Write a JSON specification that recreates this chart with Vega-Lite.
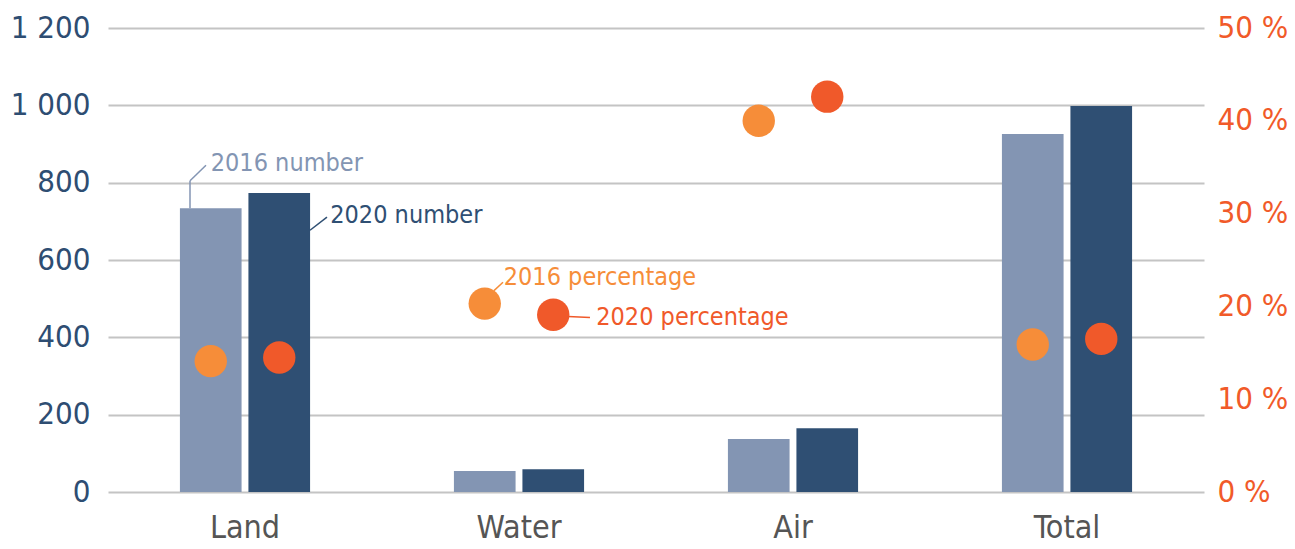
{
  "$schema": "https://vega.github.io/schema/vega-lite/v6.json",
  "width": 1096,
  "height": 464,
  "autosize": "none",
  "padding": {"left": 108, "top": 28, "right": 91, "bottom": 57},
  "background": "white",
  "config": {
    "view": {"stroke": null},
    "font": "DejaVu Sans Condensed, Liberation Sans Narrow, sans-serif"
  },
  "datasets": {
    "main": [
      {"cat": "Land", "year": "2016", "number": 734, "pct": 14.1},
      {"cat": "Land", "year": "2020", "number": 773, "pct": 14.5},
      {"cat": "Water", "year": "2016", "number": 54, "pct": 20.3},
      {"cat": "Water", "year": "2020", "number": 59, "pct": 19.1},
      {"cat": "Air", "year": "2016", "number": 137, "pct": 40.0},
      {"cat": "Air", "year": "2020", "number": 165, "pct": 42.6},
      {"cat": "Total", "year": "2016", "number": 926, "pct": 15.9},
      {"cat": "Total", "year": "2020", "number": 998, "pct": 16.5}
    ],
    "labels": [
      {"cat": "Land", "year": "2016", "val": 851, "label": "2016 number"},
      {"cat": "Land", "year": "2020", "val": 716, "label": "2020 number"},
      {"cat": "Water", "year": "2016", "val": 23.2, "label": "2016 percentage"},
      {"cat": "Water", "year": "2020", "val": 18.9, "label": "2020 percentage"}
    ],
    "leaders": [
      {"cat": "Land", "id": "n16a", "y1": 734, "y2": 805},
      {"cat": "Land", "id": "n16b", "y1": 805, "y2": 845},
      {"cat": "Land", "id": "n20", "y1": 677, "y2": 711},
      {"cat": "Water", "id": "p16", "y1": 21.7, "y2": 22.6},
      {"cat": "Water", "id": "p20", "y1": 18.9, "y2": 18.8}
    ]
  },
  "encoding": {
    "x": {
      "field": "cat",
      "type": "nominal",
      "sort": ["Land", "Water", "Air", "Total"],
      "scale": {"paddingInner": 0.525, "paddingOuter": 0.2625},
      "axis": {
        "title": null,
        "domain": false,
        "ticks": false,
        "labelAngle": 0,
        "labelFontSize": 32,
        "labelColor": "#555555",
        "labelPadding": 20,
        "labelBaseline": "top"
      }
    }
  },
  "layer": [
    {
      "layer": [
        {
          "data": {"name": "main"},
          "mark": {"type": "bar"},
          "encoding": {
            "xOffset": {"field": "year", "type": "nominal", "sort": ["2016", "2020"], "scale": {"paddingInner": 0.1, "paddingOuter": 0}},
            "y": {
              "field": "number",
              "type": "quantitative",
              "scale": {"domain": [0, 1200], "nice": false},
              "axis": {
                "title": null,
                "orient": "left",
                "values": [0, 200, 400, 600, 800, 1000, 1200],
                "labelExpr": "replace(format(datum.value, ','), ',', ' ')",
                "labelFontSize": 31,
                "labelColor": "#2e4d72",
                "labelPadding": 18,
                "domain": false,
                "ticks": false,
                "grid": true,
                "gridColor": "#c4c4c4",
                "gridWidth": 2
              }
            },
            "color": {
              "field": "year",
              "type": "nominal",
              "scale": {"domain": ["2016", "2020"], "range": ["#8395b3", "#2f4f73"]},
              "legend": null
            }
          }
        },
        {
          "data": {"name": "labels"},
          "transform": [{"filter": "datum.label == '2016 number'"}],
          "mark": {"type": "text", "align": "left", "baseline": "middle", "fontSize": 25, "dx": 0, "color": "#8395b3"},
          "encoding": {
            "xOffset": {"field": "year", "type": "nominal", "sort": ["2016", "2020"], "scale": {"paddingInner": 0.1, "paddingOuter": 0}},
            "y": {"field": "val", "type": "quantitative"},
            "text": {"field": "label"}
          }
        },
        {
          "data": {"name": "labels"},
          "transform": [{"filter": "datum.label == '2020 number'"}],
          "mark": {"type": "text", "align": "left", "baseline": "middle", "fontSize": 25, "dx": 51, "color": "#2f4f73"},
          "encoding": {
            "xOffset": {"field": "year", "type": "nominal", "sort": ["2016", "2020"], "scale": {"paddingInner": 0.1, "paddingOuter": 0}},
            "y": {"field": "val", "type": "quantitative"},
            "text": {"field": "label"}
          }
        },
        {
          "data": {"name": "leaders"},
          "transform": [{"filter": "datum.id == 'n16a'"}],
          "mark": {"type": "rule", "strokeWidth": 1.5, "color": "#8395b3", "xOffset": -55, "x2Offset": -55},
          "encoding": {
            "x2": {"field": "cat"},
            "y": {"field": "y1", "type": "quantitative"},
            "y2": {"field": "y2"}
          }
        },
        {
          "data": {"name": "leaders"},
          "transform": [{"filter": "datum.id == 'n16b'"}],
          "mark": {"type": "rule", "strokeWidth": 1.5, "color": "#8395b3", "xOffset": -55, "x2Offset": -39},
          "encoding": {
            "x2": {"field": "cat"},
            "y": {"field": "y1", "type": "quantitative"},
            "y2": {"field": "y2"}
          }
        },
        {
          "data": {"name": "leaders"},
          "transform": [{"filter": "datum.id == 'n20'"}],
          "mark": {"type": "rule", "strokeWidth": 1.5, "color": "#2f4f73", "xOffset": 65, "x2Offset": 82},
          "encoding": {
            "x2": {"field": "cat"},
            "y": {"field": "y1", "type": "quantitative"},
            "y2": {"field": "y2"}
          }
        }
      ]
    },
    {
      "layer": [
        {
          "data": {"name": "main"},
          "mark": {"type": "point", "shape": "circle", "filled": true, "opacity": 1, "size": 1050},
          "encoding": {
            "xOffset": {"field": "year", "type": "nominal", "sort": ["2016", "2020"], "scale": {"paddingInner": 0.1, "paddingOuter": 0}},
            "y": {
              "field": "pct",
              "type": "quantitative",
              "scale": {"domain": [0, 50], "nice": false},
              "axis": {
                "title": null,
                "orient": "right",
                "values": [0, 10, 20, 30, 40, 50],
                "labelExpr": "datum.value + ' %'",
                "labelFontSize": 31,
                "labelColor": "#f15a29",
                "labelPadding": 13,
                "domain": false,
                "ticks": false,
                "grid": false
              }
            },
            "fill": {
              "field": "year",
              "type": "nominal",
              "scale": {"domain": ["2016", "2020"], "range": ["#f68d39", "#f0592a"]},
              "legend": null
            }
          }
        },
        {
          "data": {"name": "labels"},
          "transform": [{"filter": "datum.label == '2016 percentage'"}],
          "mark": {"type": "text", "align": "left", "baseline": "middle", "fontSize": 25, "dx": 19, "color": "#f68d39"},
          "encoding": {
            "xOffset": {"field": "year", "type": "nominal", "sort": ["2016", "2020"], "scale": {"paddingInner": 0.1, "paddingOuter": 0}},
            "y": {"field": "val", "type": "quantitative"},
            "text": {"field": "label"}
          }
        },
        {
          "data": {"name": "labels"},
          "transform": [{"filter": "datum.label == '2020 percentage'"}],
          "mark": {"type": "text", "align": "left", "baseline": "middle", "fontSize": 25, "dx": 43, "color": "#f0592a"},
          "encoding": {
            "xOffset": {"field": "year", "type": "nominal", "sort": ["2016", "2020"], "scale": {"paddingInner": 0.1, "paddingOuter": 0}},
            "y": {"field": "val", "type": "quantitative"},
            "text": {"field": "label"}
          }
        },
        {
          "data": {"name": "leaders"},
          "transform": [{"filter": "datum.id == 'p16'"}],
          "mark": {"type": "rule", "strokeWidth": 1.5, "color": "#f68d39", "xOffset": -25, "x2Offset": -16},
          "encoding": {
            "x2": {"field": "cat"},
            "y": {"field": "y1", "type": "quantitative"},
            "y2": {"field": "y2"}
          }
        },
        {
          "data": {"name": "leaders"},
          "transform": [{"filter": "datum.id == 'p20'"}],
          "mark": {"type": "rule", "strokeWidth": 1.5, "color": "#f0592a", "xOffset": 49, "x2Offset": 71},
          "encoding": {
            "x2": {"field": "cat"},
            "y": {"field": "y1", "type": "quantitative"},
            "y2": {"field": "y2"}
          }
        }
      ]
    }
  ],
  "resolve": {"scale": {"y": "independent"}}
}
